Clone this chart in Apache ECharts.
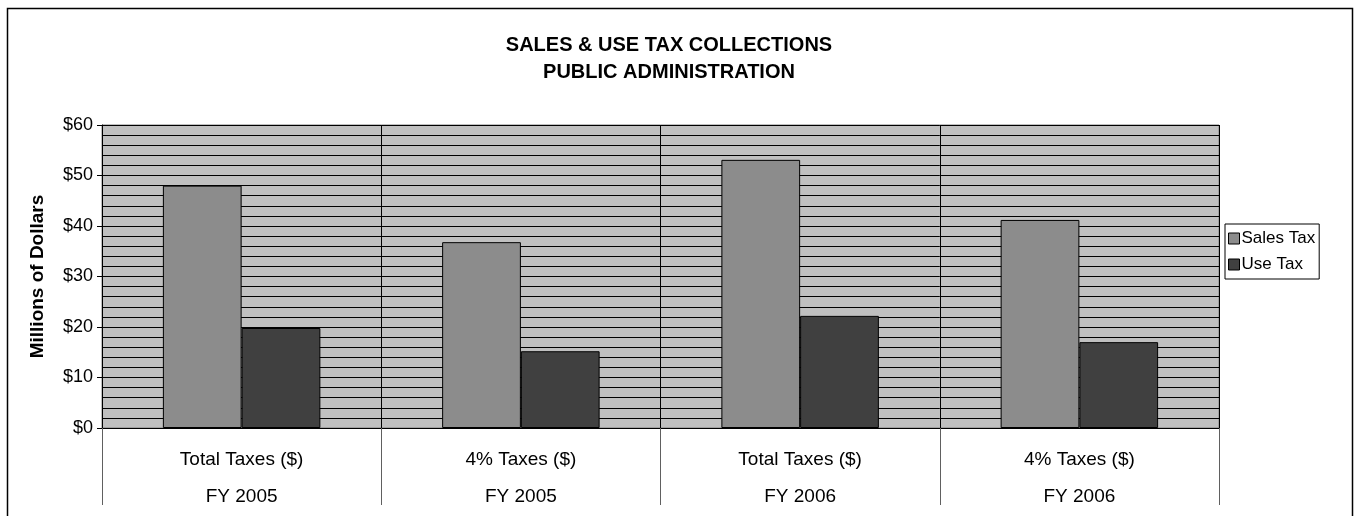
<!DOCTYPE html>
<html>
<head>
<meta charset="utf-8">
<script src="https://cdn.jsdelivr.net/npm/echarts@6/dist/echarts.min.js"></script>
<style>
  html, body { margin: 0; padding: 0; background: #fff; }
  #chart { width: 1359px; height: 516px; }
</style>
</head>
<body>
<div id="chart"></div>
<script>
// data
const taxTypes = ['Total Taxes ($)', '4% Taxes ($)', 'Total Taxes ($)', '4% Taxes ($)'];
const fiscalYears = ['FY 2005', 'FY 2005', 'FY 2006', 'FY 2006'];
const salesTax = [48, 36.8, 53.1, 41.2];
const useTax = [19.8, 15.2, 22.2, 17.0];
const seriesNames = ['Sales Tax', 'Use Tax'];

const font = 'Liberation Sans, Arial, sans-serif';
const chart = echarts.init(document.getElementById('chart'));

const categories = taxTypes.map((t, i) => t + '\n' + fiscalYears[i]);

chart.setOption({
    animation: false,
    backgroundColor: '#fff',
    title: {
        text: 'SALES & USE TAX COLLECTIONS\nPUBLIC ADMINISTRATION',
        left: 664,
        textAlign: 'center',
        top: 27,
        textStyle: {fontFamily: font, fontSize: 20, fontWeight: 'bold', color: '#000', lineHeight: 27},
    },
    legend: {
        orient: 'vertical',
        left: 1225,
        top: 224,
        itemWidth: 11,
        itemHeight: 11,
        itemGap: 9,
        padding: [6, 4, 6, 3],
        borderColor: '#000',
        borderWidth: 1,
        icon: 'rect',
        textStyle: {fontFamily: font, fontSize: 17, color: '#000', padding: [0, 0, 0, -3]},
        itemStyle: {borderColor: '#000', borderWidth: 1},
        data: seriesNames,
    },
    grid: {left: 102, right: 140, top: 125, bottom: 88, show: true, backgroundColor: '#c0c0c0', borderColor: '#808080', borderWidth: 1},
    xAxis: {
        type: 'category',
        data: categories,
        axisLine: {lineStyle: {color: '#000', width: 1}},
        axisTick: {show: true, length: 77, lineStyle: {color: '#606060'}},
        splitLine: {show: true, lineStyle: {color: '#000', width: 1}},
        axisLabel: {fontFamily: font, fontSize: 19, color: '#000', lineHeight: 37, margin: 13},
    },
    yAxis: {
        type: 'value',
        min: 0,
        max: 60,
        interval: 10,
        name: 'Millions of Dollars',
        nameLocation: 'middle',
        nameGap: 55,
        nameTextStyle: {fontFamily: font, fontSize: 19, fontWeight: 'bold', color: '#000'},
        axisLine: {show: true, lineStyle: {color: '#000'}},
        axisTick: {show: true, length: 5, lineStyle: {color: '#000'}},
        axisLabel: {fontFamily: font, fontSize: 18, color: '#000', margin: 9, formatter: v => '$' + v},
        splitLine: {show: true, lineStyle: {color: '#000', width: 1}},
        minorTick: {show: false, splitNumber: 5},
        minorSplitLine: {show: true, lineStyle: {color: '#000', width: 1}},
    },
    series: [
        {
            name: seriesNames[0],
            type: 'bar',
            data: salesTax,
            barGap: '0%',
            barCategoryGap: '43.6%',
            itemStyle: {color: '#8c8c8c', borderColor: '#000', borderWidth: 1},
        },
        {
            name: seriesNames[1],
            type: 'bar',
            data: useTax,
            itemStyle: {color: '#404040', borderColor: '#000', borderWidth: 1},
        },
    ],
    graphic: [
        {
            type: 'rect',
            silent: true,
            z: 100,
            shape: {x: 7.5, y: 8.5, width: 1345, height: 530},
            style: {fill: 'none', stroke: '#000', lineWidth: 1.5},
        },
    ],
});
</script>
</body>
</html>
